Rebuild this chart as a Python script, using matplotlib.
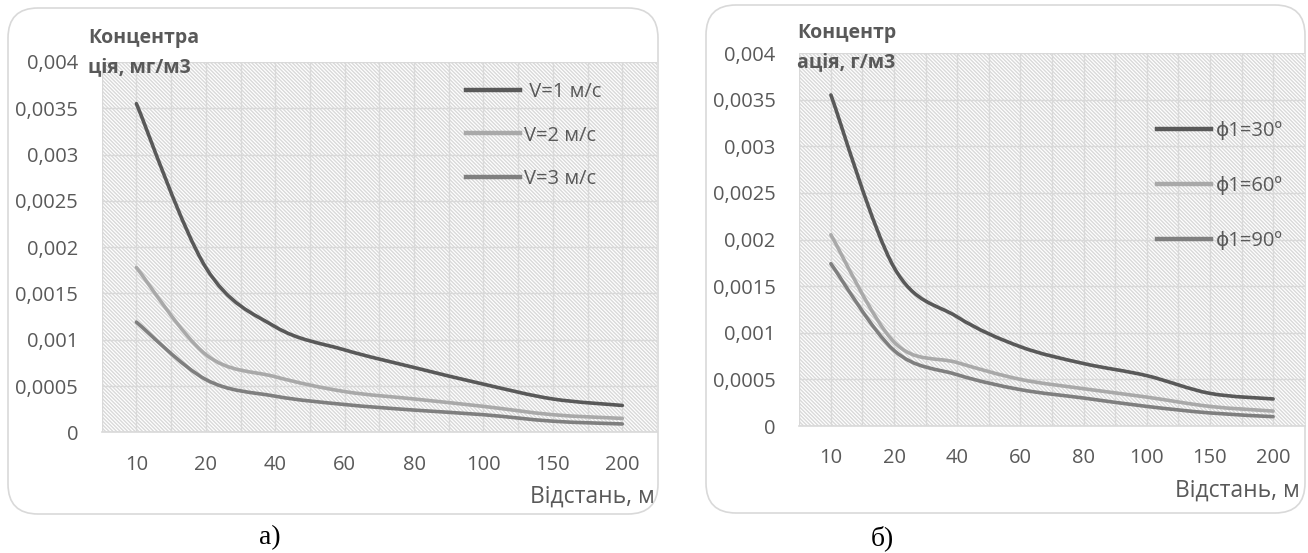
import matplotlib
matplotlib.use("Agg")
import matplotlib.pyplot as plt
from matplotlib.path import Path
from matplotlib.patches import PathPatch, Rectangle, FancyBboxPatch
from matplotlib.lines import Line2D
from matplotlib.ticker import FixedLocator, FuncFormatter

# ---------------- data ----------------
distances = ["10", "20", "40", "60", "80", "100", "150", "200"]

v_labels = [" V=1 м/с", "V=2 м/с", "V=3 м/с"]
v1 = [0.00355, 0.00178, 0.00114, 0.00089, 0.00070, 0.00052, 0.00036, 0.00029]
v2 = [0.00178, 0.00084, 0.00060, 0.00044, 0.00036, 0.00028, 0.00019, 0.00015]
v3 = [0.00119, 0.00057, 0.00039, 0.00030, 0.00024, 0.00019, 0.00012, 0.00009]

phi_labels = ["ϕ1=30º", "ϕ1=60º", "ϕ1=90º"]
p30 = [0.00355, 0.00170, 0.00117, 0.00085, 0.00067, 0.00054, 0.00035, 0.00029]
p60 = [0.00205, 0.00090, 0.00068, 0.00050, 0.00040, 0.00031, 0.00021, 0.00016]
p90 = [0.00174, 0.00081, 0.00055, 0.00039, 0.00030, 0.00021, 0.00014, 0.00010]

y_ticks = [0, 0.0005, 0.001, 0.0015, 0.002, 0.0025, 0.003, 0.0035, 0.004]

ylabel_left = "Концентра\nція, мг/м3"
ylabel_right = "Концентр\nація, г/м3"
xlabel = "Відстань, м"
captions = ["а)", "б)"]

colors = ["#595959", "#a9a9a9", "#7f7f7f"]
TXT = "#595959"
GRID = "#d9d9d9"

plt.rcParams["font.family"] = ["Open Sans", "DejaVu Sans"]
plt.rcParams["hatch.linewidth"] = 1.0

W, H = 1308, 553
fig = plt.figure(figsize=(W / 100, H / 100), dpi=100)
fig.patch.set_facecolor("white")


def smooth_path(xs, ys):
    """Excel-like smoothed line: Catmull-Rom converted to cubic Bezier."""
    pts = list(zip(xs, ys))
    verts = [pts[0]]
    codes = [Path.MOVETO]
    n = len(pts)
    for i in range(n - 1):
        p0 = pts[i - 1] if i > 0 else pts[i]
        p1 = pts[i]
        p2 = pts[i + 1]
        p3 = pts[i + 2] if i + 2 < n else pts[i + 1]
        c1 = (p1[0] + (p2[0] - p0[0]) / 6.0, p1[1] + (p2[1] - p0[1]) / 6.0)
        c2 = (p2[0] - (p3[0] - p1[0]) / 6.0, p2[1] - (p3[1] - p1[1]) / 6.0)
        verts += [c1, c2, p2]
        codes += [Path.CURVE4] * 3
    return Path(verts, codes)


def px_rect(x0, y0, x1, y1):
    return [x0 / W, 1 - y1 / H, (x1 - x0) / W, (y1 - y0) / H]


def panel(x0, y0, x1, y1):
    p = FancyBboxPatch((x0 / 100, (H - y1) / 100), (x1 - x0) / 100, (y1 - y0) / 100,
                       boxstyle="round,pad=0,rounding_size=0.3",
                       transform=fig.dpi_scale_trans, facecolor="white",
                       edgecolor=GRID, linewidth=1.2, zorder=-5)
    fig.patches.append(p)


def make_chart(rect, series, labels, ylab, ylab_xy, leg_anchor, leg_spacing, xlab_xy):
    ax = fig.add_axes(rect)
    ax.set_facecolor("white")
    xs = list(range(len(distances)))
    ax.add_patch(Rectangle((0, 0), 1, 1, transform=ax.transAxes, facecolor="white",
                           edgecolor="#d9d9d9", hatch="\\" * 9, linewidth=0, zorder=0.1))
    for ys, c in zip(series, colors):
        ax.add_patch(PathPatch(smooth_path(xs, ys), facecolor="none", edgecolor=c,
                               linewidth=2.6, capstyle="round", joinstyle="round", zorder=3))
    ax.set_xlim(-0.5, len(distances) - 0.5)
    ax.set_ylim(0, 0.004)
    ax.xaxis.set_major_locator(FixedLocator(xs))
    ax.xaxis.set_minor_locator(FixedLocator([x - 0.5 for x in xs] + [len(xs) - 0.5]))
    ax.set_xticklabels(distances)
    ax.set_yticks(y_ticks)
    ax.yaxis.set_major_formatter(FuncFormatter(lambda v, p: format(v, "g").replace(".", ",")))
    ax.set_axisbelow(True)
    ax.grid(True, which="both", axis="x", color=GRID, linewidth=1.0, zorder=0.5)
    ax.grid(True, which="major", axis="y", color=GRID, linewidth=1.0, zorder=0.5)
    ax.tick_params(which="both", length=0)
    ax.tick_params(axis="y", pad=17, labelsize=14.5, labelcolor=TXT)
    ax.tick_params(axis="x", pad=16, labelsize=14.5, labelcolor=TXT)
    for s in ["left", "right", "top"]:
        ax.spines[s].set_visible(False)
    ax.spines["bottom"].set_color(GRID)
    ax.spines["bottom"].set_linewidth(1.2)
    ax.set_ylabel(ylab, rotation=0, ha="left", va="top", fontsize=14, fontweight="bold",
                  color=TXT, linespacing=1.6)
    ax.yaxis.set_label_coords(*ylab_xy)
    ax.set_xlabel(xlabel, ha="right", va="top", fontsize=16.5, color=TXT)
    ax.xaxis.set_label_coords(*xlab_xy)
    handles = [Line2D([], [], color=c, linewidth=3.2) for c in colors]
    ax.legend(handles, labels, loc="upper left", bbox_to_anchor=leg_anchor, frameon=False,
              fontsize=14.5, handlelength=2.7, handletextpad=0.2, labelspacing=leg_spacing,
              borderpad=0, borderaxespad=0, labelcolor=TXT)
    return ax


panel(8, 8, 658, 514)
panel(706, 5, 1305, 513)

make_chart(px_rect(101.7, 62, 657, 432.3), [v1, v2, v3], v_labels, ylabel_left,
           (-0.0247, 1.092), (0.656, 0.945), 1.15, (0.9964, -0.14))
make_chart(px_rect(799.3, 53, 1304.7, 426), [p30, p60, p90], phi_labels, ylabel_right,
           (-0.0046, 1.08), (0.7078, 0.818), 1.75, (0.9907, -0.14))

fig.text(270 / W, 1 - 538 / H, captions[0], ha="center", va="center", fontsize=20,
         family="Liberation Serif")
fig.text(882 / W, 1 - 538 / H, captions[1], ha="center", va="center", fontsize=20,
         family="Liberation Serif")

fig.savefig("out.png", dpi=100)
